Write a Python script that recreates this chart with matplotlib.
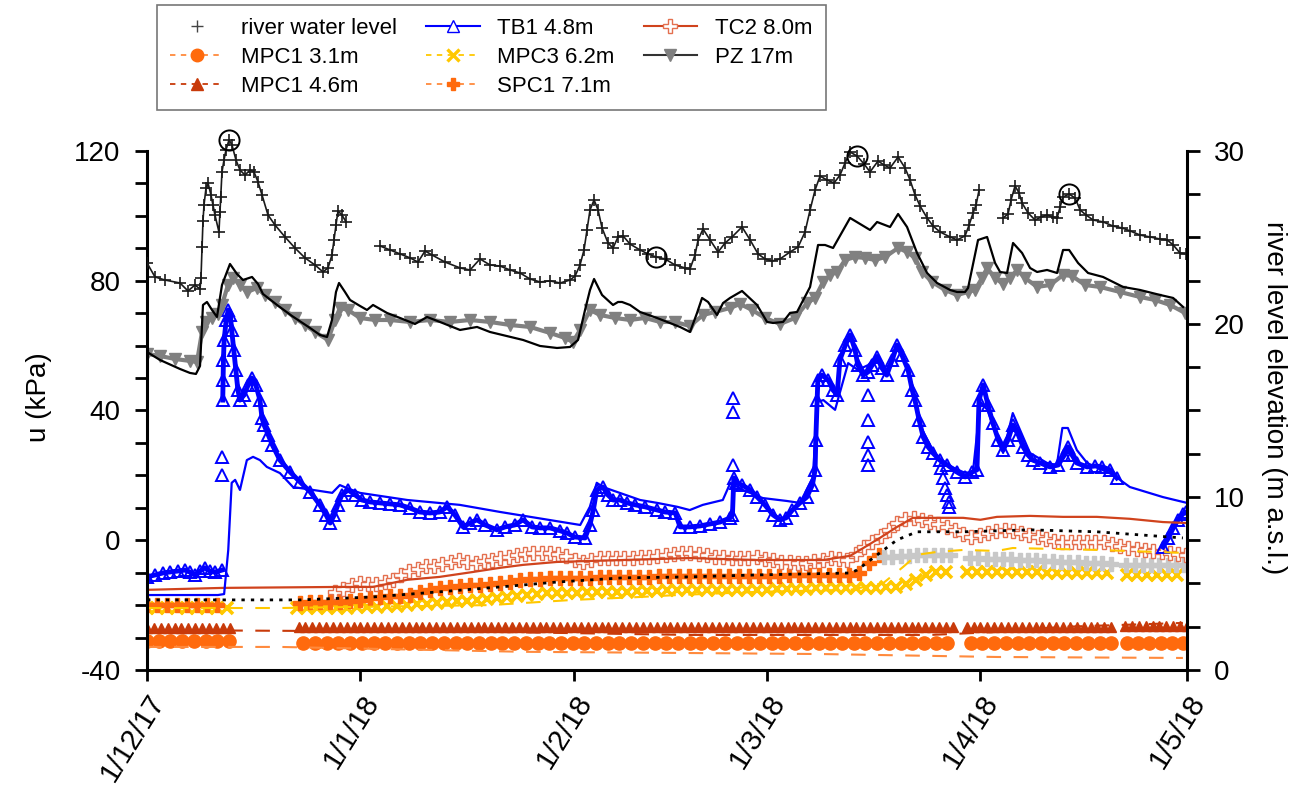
import numpy as np
import pandas as pd
import matplotlib
matplotlib.use("Agg")
import matplotlib.pyplot as plt
import matplotlib.dates as mdates
from matplotlib.lines import Line2D
from matplotlib.ticker import MultipleLocator, FuncFormatter

plt.rcParams['font.family'] = ['Liberation Sans', 'DejaVu Sans']
plt.rcParams['axes.unicode_minus'] = False

START = pd.Timestamp('2017-12-01')
END = pd.Timestamp('2018-05-01')
nan = np.nan

# ---------------- river water level (m a.s.l.), days after 1/12/17 ----------------
# nan entries mark logger gaps
riv_days = [0.0, 1.16, 2.61, 4.79, 5.95, 6.97, 7.70, 7.84, 7.99, 8.13, 8.28, 8.57, 8.86, 9.29, 9.58,
            9.87, 10.45, 10.60, 10.70, 10.89, 11.18, 11.47, 11.91, 12.34, 12.92, 13.50, 14.23, 14.96,
            15.54, 16.12, 16.70, 17.57, 18.59, 20.04, 21.49, 22.94, 24.39, 25.56, 26.28, 26.86, 27.15,
            27.44, 27.73, 28.31, 28.90, 31.0,
            33.83, 35.28, 36.74, 38.19, 39.35, 40.37, 41.38, 43.27, 45.45, 46.90, 48.35, 49.80, 51.26,
            52.71, 54.16, 55.61, 57.06, 58.52, 59.97, 61.42, 62.15, 62.87, 63.45, 63.89, 64.32, 64.91,
            65.49, 66.07, 66.94, 67.66, 68.39, 69.12, 70.13, 71.58, 72.74, 73.91, 75.21, 76.67, 78.12,
            78.84, 79.57, 80.01, 80.73, 81.75, 82.91, 83.93, 84.94, 86.39, 87.56, 88.72, 89.73, 90.75,
            91.91, 93.36, 94.53, 95.54, 96.27, 97.00, 97.72, 98.74, 99.75, 100.62, 101.35, 102.08,
            103.09, 104.11, 104.98, 106.14, 107.01, 107.88, 109.05, 110.06, 110.79, 111.51, 112.24,
            113.26, 114.13, 115.14, 116.60, 117.61, 118.77, 119.36, 119.94, 120.37, 120.81, 122.5,
            124.29, 125.02, 125.45, 126.03, 126.62, 127.05, 127.92, 128.94, 129.81, 130.68, 131.55,
            132.13, 132.57, 133.00, 133.88, 134.75, 135.47, 136.34, 137.36, 138.81, 140.26, 141.57,
            142.73, 144.18, 145.64, 147.09, 148.11, 148.98, 149.99, 150.86]
riv_m = [23.53, 22.72, 22.54, 22.37, 21.91, 22.25, 22.02, 22.66, 24.45, 25.95, 26.88, 27.86, 28.15, 27.46,
         26.88, 26.30, 25.32, 26.47, 27.34, 28.79, 29.48, 30.06, 30.64, 30.35, 29.48, 28.90, 28.61, 28.90,
         28.79, 28.21, 27.46, 26.30, 25.72, 25.03, 24.39, 23.82, 23.41, 23.01, 23.24, 23.99, 24.86,
         25.72, 26.53, 26.30, 25.90, nan,
         24.51, 24.28, 24.05, 23.82, 23.58, 24.22, 23.99, 23.58, 23.24, 23.12, 23.76, 23.41, 23.35,
         23.12, 22.95, 22.60, 22.43, 22.49, 22.37, 22.54, 22.77, 23.41, 24.28, 25.43, 26.59, 27.17,
         26.59, 25.55, 24.68, 24.39, 25.03, 25.09, 24.62, 24.28, 24.05, 23.87, 23.76, 23.41, 23.24,
         23.18, 23.99, 24.86, 25.49, 24.86, 24.16, 24.68, 25.03, 25.61, 24.86, 24.05, 23.76, 23.64,
         23.76, 24.16, 24.45, 25.32, 26.59, 27.75, 28.55, 28.32, 28.15, 28.61, 29.31, 29.94,
         29.71, 29.25, 28.79, 29.42, 29.19, 29.02, 29.65, 29.02, 28.32, 27.46, 26.82,
         26.13, 25.66, 25.32, 25.03, 24.86, 25.09, 25.72, 26.42, 26.88, 27.75, nan,
         26.13, 26.36, 27.17, 27.98, 27.57, 26.99, 26.42, 26.01, 26.18, 26.30, 26.18,
         26.13, 26.76, 27.34, 27.51, 27.28, 26.59, 26.30, 26.01, 25.90, 25.66, 25.55,
         25.38, 25.14, 25.03, 24.91, 24.86, 24.57, 24.10, 24.05]
# highlighted river peaks / points
ring_days = [11.91, 73.91, 103.09, 133.88]
ring_m = [30.64, 23.87, 29.71, 27.51]

# ---------------- PZ 17m ----------------
pz_days = [0.0, 1.89, 4.06, 6.24, 7.26, 7.99, 8.57, 9.44, 10.31, 10.89, 11.76, 12.49, 13.50, 14.52, 15.97,
           17.13, 18.59, 20.04, 21.49, 22.94, 24.39, 26.28, 27.30, 28.02, 29.19, 30.93, 33.11, 35.29,
           38.19, 41.09, 44.00, 46.90, 49.80, 52.71, 55.61, 58.52, 60.69, 61.86, 62.87, 64.32, 65.78,
           67.96, 70.13, 72.31, 74.49, 76.67, 78.84, 80.73, 82.47, 84.65, 86.10, 87.85, 89.73, 91.91,
           94.09, 95.83, 96.99, 98.16, 99.17, 100.19, 101.35, 102.80, 104.25, 105.71, 107.16, 109.05,
           110.35, 111.51, 112.53, 113.98, 115.87, 117.61, 119.21, 120.23, 121.24, 121.97, 123.13,
           124.29, 125.31, 126.32, 127.49, 129.23, 131.12, 133.00, 134.31, 136.20, 138.38, 141.28,
           144.18, 146.36, 148.54, 150.72]
pz_kpa = [57.42, 56.81, 55.88, 55.27, 54.96, 64.20, 67.29, 68.52, 69.75, 72.53, 78.69, 80.85, 78.69, 76.53,
          77.77, 75.61, 73.45, 70.99, 68.52, 66.36, 64.20, 61.74, 67.90, 71.60, 70.99, 68.52, 67.90, 67.90,
          67.29, 67.90, 67.29, 67.90, 67.29, 66.36, 65.75, 63.90, 62.36, 61.13, 64.82, 70.99, 69.45,
          68.52, 67.90, 68.52, 67.29, 67.29, 66.05, 69.45, 70.37, 71.60, 72.84, 70.99, 68.52, 66.67,
          68.52, 73.14, 74.69, 79.62, 81.78, 82.70, 86.40, 87.32, 87.02, 86.40, 87.32, 90.10,
          88.87, 87.02, 82.70, 79.62, 77.15, 75.61, 76.53, 77.15, 80.85, 83.93, 80.85,
          79.00, 80.85, 83.32, 80.85, 78.08, 78.69, 81.78, 81.47, 78.69, 78.08, 76.53,
          74.99, 74.07, 72.53, 70.06]
pz_fit_days = [0.0, 1.89, 4.79, 6.24, 7.11, 7.70, 8.13, 8.71, 9.44, 10.16, 10.89, 12.05, 13.07, 13.94,
               15.25, 16.12, 16.84, 18.88, 21.05, 23.67, 25.12, 26.14, 26.86, 27.44, 27.88, 28.75, 29.48,
               30.93, 31.94, 32.82, 34.85, 36.74, 38.91, 40.66, 42.54, 45.45, 47.92, 49.80, 54.60, 57.06,
               59.53, 61.42, 62.58, 63.60, 64.32, 64.91, 66.07, 67.66, 68.39, 68.97, 70.13, 71.58, 74.05,
               77.39, 78.84, 79.86, 80.59, 81.46, 82.76, 83.64, 84.65, 86.39, 88.57, 90.03, 90.90, 92.35,
               93.36, 94.38, 96.27, 97.43, 98.45, 99.61, 102.08, 104.98, 106.00, 107.88, 109.05, 110.35,
               111.80, 113.26, 114.71, 116.60, 117.61, 118.77, 119.21, 120.66, 121.97, 123.13, 123.86,
               124.87, 125.74, 127.05, 128.21, 129.23, 130.68, 132.13, 133.00, 133.88, 135.18, 136.63,
               138.81, 141.72, 144.18, 147.09, 148.98, 150.43]
pz_fit_kpa = [58.04, 55.57, 52.80, 51.57, 51.26, 53.72, 72.53, 73.45, 70.99, 68.83, 78.69, 85.17, 82.08, 80.23,
              81.16, 79.00, 75.92, 72.53, 69.14, 65.44, 63.28, 62.66, 67.90, 76.53, 79.31, 76.53, 74.07,
              72.22, 70.99, 72.53, 70.06, 68.52, 66.67, 68.83, 67.29, 64.82, 65.75, 64.20, 61.74, 59.89,
              59.27, 59.58, 61.74, 70.99, 77.15, 80.54, 75.61, 72.53, 73.45, 73.45, 72.53, 70.37, 68.52,
              65.75, 64.20, 70.06, 74.69, 73.45, 69.45, 73.14, 74.69, 76.84, 72.53, 67.29, 66.98, 67.29,
              70.06, 70.37, 78.08, 91.02, 91.02, 90.10, 99.35, 95.65, 98.11, 96.57, 100.58, 96.57,
              88.56, 82.39, 79.31, 77.15, 76.53, 76.53, 77.77, 92.56, 93.49, 85.47, 82.70,
              82.39, 91.64, 88.56, 83.93, 82.70, 83.32, 82.39, 89.48, 89.48, 85.47, 82.39,
              81.16, 78.08, 77.15, 75.61, 74.69, 71.91]

# ---------------- TB1 4.8m ----------------
tb1_days = [0.0, 1.2, 2.3, 3.3, 4.5, 5.5, 6.2, 7.0, 7.7, 8.4, 9.1, 9.9, 10.9, 10.95,
            11.0, 11.05, 11.1, 11.2, 11.5, 11.8, 12.1, 12.3, 12.6, 12.9, 13.2, 13.5, 14.1, 14.7, 15.2,
            15.8, 16.4, 16.7, 17.0, 17.6, 18.2, 19.3, 20.8, 22.2, 23.7, 25.1, 26.0, 26.6, 27.2, 27.7,
            28.3, 29.2, 30.2, 31.2, 32.4, 33.8, 35.3, 36.7, 38.2, 39.6, 41.1, 42.5, 43.6, 44.7, 45.9,
            46.9, 47.9, 49.1, 50.8, 52.0, 53.4, 54.6, 55.9, 57.1, 58.5, 60.0, 61.0, 62.1, 63.6, 64.3,
            64.8, 65.3, 66.2, 66.9, 67.7, 68.7, 69.7, 70.9, 72.3, 74.1, 75.2, 76.7, 77.4, 78.8, 80.3,
            81.7, 83.2, 84.7, 85.0, 85.2, 85.5, 86.4, 87.6, 88.6, 89.7, 90.9, 91.9,
            92.8, 93.7, 94.8, 95.8, 96.6, 97.0, 97.1, 97.3, 97.4, 98.0, 98.9, 99.6, 100.2, 100.6,
            101.4, 102.1, 102.8, 103.2, 104.0, 104.7, 105.3, 106.0, 106.7, 107.4, 108.2, 108.9, 109.6,
            110.5, 111.1, 111.5, 112.1, 112.7, 113.4, 114.1, 115.1, 116.2, 117.6, 118.8, 119.8, 120.5,
            120.8, 121.4, 122.1, 122.8, 123.6, 124.3, 125.0, 125.7, 126.5, 127.2, 127.9, 128.6, 129.7,
            131.1, 132.3, 133.2, 133.7, 134.3, 135.0, 136.5, 137.7, 138.7, 139.8, 140.8, 144.0,
            147.5, 148.3, 149.0, 149.7, 150.4, 150.9]
tb1_kpa = [-11.3, -10.7, -10.1, -9.8, -9.5, -9.2, -9.8, -10.7, -9.5, -8.5, -9.5, -9.8, -9.2, nan,
           43.2, 49.4, 55.6, 61.7, 67.9, 71.0, 69.4, 64.8, 58.7, 52.5, 46.3, 43.2, 44.8, 47.9, 50.0,
           47.9, 43.2, 37.7, 35.5, 32.5, 29.4, 24.7, 21.0, 18.0, 14.9, 10.9, 7.8, 5.3, 7.8, 10.9,
           14.0, 15.5, 14.0, 12.4, 11.8, 11.5, 11.2, 10.9, 9.9, 8.7, 8.4, 8.7, 10.3, 7.8, 4.1,
           5.3, 6.3, 4.7, 3.2, 4.1, 4.7, 6.3, 4.1, 3.8, 3.8, 2.9, 2.2, 1.0, 0.7, 4.7,
           9.3, 15.5, 16.4, 14.0, 12.4, 12.4, 11.5, 10.9, 10.3, 9.3, 8.7, 8.4, 4.1, 4.1, 4.4,
           5.0, 5.6, 6.9, 7.8, 19.2, 17.7, 17.0, 15.5, 13.3, 10.9, 7.8, 6.3,
           6.9, 9.3, 11.5, 13.3, 17.0, 21.7, 30.9, 43.2, 49.4, 50.9, 49.4, 46.3, 44.8, 55.6,
           60.2, 63.3, 58.7, 54.0, 50.9, 51.9, 54.0, 56.5, 53.1, 50.9, 55.6, 60.2, 57.1,
           52.5, 46.3, 43.2, 37.1, 31.8, 28.8, 26.9, 24.7, 23.2, 21.0, 19.5, 21.0, 21.7,
           43.2, 47.9, 41.7, 36.2, 30.9, 27.8, 30.9, 35.5, 32.5, 28.8, 26.3, 24.7, 23.8,
           22.6, 23.2, 26.3, 28.8, 26.3, 23.8, 22.6, 22.9, 22.6, 21.7, 19.2, nan,
           -2.1, 0.7, 3.8, 6.3, 8.1, 8.7]
# isolated TB1 readings
tb1_spike_days = [10.9, 10.9, 85.1, 85.1, 85.1, 104.7, 104.7, 104.7, 104.7, 104.7,
                  115.3, 115.6, 115.8, 116.1, 116.4, 116.4]
tb1_spike_kpa = [25.7, 20.1, 43.9, 39.5, 23.2, 44.8, 37.1, 30.3, 26.3, 23.2,
                 22.3, 19.2, 16.1, 14.0, 11.8, 10.3]
tb1_fit_days = [0.0, 10.3, 11.2, 11.8, 12.3, 12.8, 13.5, 14.5, 15.4, 16.4, 17.4, 19.3, 21.2, 24.1, 26.9,
                28.0, 29.0, 30.9, 37.8, 45.4, 51.3, 62.9, 64.3, 65.3, 66.2, 71.6, 74.1, 77.0, 78.8, 80.7,
                83.6, 84.7, 86.5, 89.4, 92.9, 94.8, 96.7, 97.3, 98.2, 99.9, 101.8, 103.2, 104.7, 106.0,
                107.4, 108.9, 110.5, 112.2, 114.1, 115.6, 118.5, 119.9, 121.0, 122.0, 124.3, 125.7,
                128.2, 130.7, 132.1, 132.9, 133.7, 135.0, 136.5, 140.3, 142.7, 147.5, 151.0]
tb1_fit_kpa = [-16.9, -16.9, -16.6, -3.0, 17.7, 18.6, 15.5, 24.7, 25.7, 24.7, 22.6, 20.7, 16.4, 15.5, 14.6,
               17.0, 16.1, 14.6, 12.4, 10.9, 8.7, 4.7, 10.3, 17.7, 16.4, 12.4, 11.5, 10.3, 9.3, 10.9,
               12.4, 17.7, 15.5, 13.0, 12.1, 11.5, 19.5, 42.6, 43.2, 40.2, 54.6, 52.5, 54.0, 57.1,
               52.5, 60.2, 53.1, 35.5, 27.8, 23.8, 21.0, 20.7, 42.6, 40.2, 26.9, 39.2,
               26.9, 23.8, 23.2, 34.6, 34.6, 27.8, 23.8, 20.1, 16.4, 13.3, 11.5]

# ---------------- TC2 8.0m ----------------
tc2_days = np.arange(27.3, 151.0, 1.2)
tc2_kpa = [-16.0, -14.9, -13.9, -13.3, -13.6, -13.5, -12.9, -12.2, -10.8, -9.6, -8.8, -8.1, -7.8, -7.4,
           -6.6, -6.2, -6.7, -6.9, -6.4, -6.0, -5.6, -5.3, -4.7, -4.2, -3.9, -3.9, -3.9, -4.3, -5.0,
           -6.2, -6.8, -6.0, -5.5, -5.5, -5.5, -5.5, -5.4, -5.3, -5.2, -4.9, -4.5, -4.1, -3.9, -3.9,
           -4.3, -4.7, -5.1, -5.3, -5.4, -5.5, -5.4, -5.2, -5.7, -6.2, -6.7, -6.8, -6.9, -7.0, -6.5,
           -6.0, -5.5, -5.8, -6.0, -4.4, -2.0, -0.4, 1.2, 3.2, 5.3, 6.5, 7.0, 6.3, 5.5, 4.9, 4.2,
           3.1, 1.9, 1.1, 1.7, 2.3, 2.8, 3.1, 2.7, 2.2, 1.5, 0.9, 0.4, -0.1, -0.5, -0.5, -0.5, -0.5,
           -0.5, -0.7, -1.3, -1.9, -2.3, -2.7, -2.9, -3.2, -3.5, -3.9, -4.3, -4.6]
tc2_fit_days = [0.0, 11.0, 28.0, 32.8, 37.8, 42.5, 47.3, 51.3, 54.6, 59.5, 69.1, 78.8, 88.6, 98.2, 102.1,
                104.0, 106.4, 108.9, 111.2, 113.7, 118.5, 121.0, 123.4, 128.2, 133.0, 137.9, 142.7,
                147.5, 151.0]
tc2_fit_kpa = [-15.3, -14.7, -14.4, -14.4, -12.2, -11.3, -9.8, -8.5, -7.6, -6.7, -6.1, -5.5, -6.1, -6.1, -4.8,
               -2.4, 0.7, 4.1, 6.9, 6.9, 6.9, 6.3, 7.2, 7.5, 7.2, 7.2, 6.6, 5.6, 5.3]

# ---------------- SPC1 7.1m ----------------
spc1_days = np.concatenate([np.arange(0.0, 11.0, 1.45), np.arange(22.2, 106.4, 1.45)])
spc1_kpa = [-20.0, -20.0, -20.0, -20.0, -20.0, -20.0, -20.0, -20.0,
            -19.3, -19.2, -19.2, -19.1, -19.0, -18.6, -18.3, -17.9, -17.6, -17.3, -17.1, -16.8, -16.1,
            -15.4, -14.7, -14.4, -14.2, -13.9, -13.7, -13.4, -13.2, -12.8, -12.4, -12.1, -11.9, -11.7,
            -11.6, -11.6, -11.5, -11.5, -11.4, -11.4, -11.3, -11.3, -11.2, -11.2, -11.1, -11.1, -11.0,
            -11.0, -11.0, -11.0, -11.0, -11.0, -11.0, -11.0, -11.0, -10.9, -10.9, -10.8, -10.8, -10.8,
            -10.7, -10.7, -10.7, -10.7, -10.1, -7.0, -4.6]
# same depth after 6/3/18, grey crosses
spc1b_days = np.concatenate([np.arange(107.0, 117.0, 1.2), np.arange(119.5, 140.0, 1.2),
                             np.arange(142.2, 151.0, 1.2)])
spc1b_kpa = [-5.2, -5.1, -4.9, -4.8, -4.6, -4.5, -4.5, -4.6, -4.7,
             -5.5, -5.6, -5.7, -5.8, -5.8, -5.9, -6.0, -6.1, -6.2, -6.3, -6.5, -6.7, -6.8, -6.8, -6.9,
             -7.0, -7.1, -7.2,
             -7.6, -7.6, -7.6, -7.6, -7.6, -7.6, -7.6, -7.6]
dot_days = [0.0, 22.2, 32.8, 42.5, 51.3, 59.5, 69.1, 78.8, 88.6, 102.1, 103.1, 106.4, 108.9, 111.8, 118.5,
            128.2, 137.9, 150.4]
dot_kpa = [-18.4, -18.4, -17.5, -15.9, -14.4, -12.9, -11.6, -11.3, -10.7, -10.1, -9.2, -3.9, 0.1, 2.6, 2.6,
           3.2, 2.6, 0.7]

# ---------------- MPC3 6.2m ----------------
mpc3_days = np.concatenate([np.arange(0.0, 12.2, 1.45), np.arange(21.8, 116.1, 1.45),
                            np.arange(119.1, 139.5, 1.45), np.arange(142.3, 150.0, 1.45)])
mpc3_kpa = [-20.9, -20.9, -20.9, -20.9, -20.9, -20.9, -20.9, -20.9, -20.9,
            -20.9, -20.9, -20.9, -20.9, -20.9, -20.8, -20.7, -20.6, -20.5, -20.4, -20.2, -20.0, -19.8,
            -19.6, -19.4, -19.1, -18.8, -18.6, -18.3, -18.1, -17.9, -17.5, -17.1, -16.8, -16.6, -16.4,
            -16.3, -16.2, -16.2, -16.1, -16.1, -16.0, -15.9, -15.9, -15.8, -15.7, -15.6, -15.5, -15.4,
            -15.3, -15.3, -15.3, -15.3, -15.3, -15.3, -15.3, -15.3, -15.2, -15.1, -15.0, -14.9, -14.9,
            -14.8, -14.7, -14.7, -14.7, -14.7, -14.7, -14.6, -14.5, -14.4, -13.4, -12.3, -10.7, -9.9,
            -9.8,
            -9.8, -9.8, -9.8, -9.8, -9.9, -9.9, -9.9, -9.9, -10.0, -10.0, -10.0, -10.0, -10.1, -10.1,
            -10.1,
            -10.7, -10.7, -10.7, -10.7, -10.7, -10.7]
mpc3_fit_days = [0.0, 19.3, 49.8, 61.9, 71.6, 77.0, 89.0, 102.1, 106.9, 109.8, 111.8, 114.7, 118.5, 123.4,
                 125.7, 137.9, 150.4]
mpc3_fit_kpa = [-20.9, -20.9, -20.0, -18.4, -17.5, -16.9, -15.9, -15.3, -13.2, -8.2, -4.5, -3.6, -3.0, -3.3,
                -2.4, -3.0, -3.9]

# ---------------- MPC1 4.6m ----------------
mpc1b_days = np.concatenate([np.arange(0, 13), np.arange(22, 118), np.arange(119, 141),
                             np.arange(142, 152)])
mpc1b_kpa = [-27.0, -27.0, -27.0, -27.0, -27.0, -27.0, -27.0, -27.0, -27.0, -27.0, -27.0, -27.0, -27.0,
             -26.7, -26.7, -26.7, -26.7, -26.7, -26.7, -26.7, -26.7, -26.7, -26.7, -26.7, -26.7,
             -26.7, -26.7, -26.7, -26.7, -26.7, -26.7, -26.7, -26.7, -26.7, -26.7, -26.7, -26.7,
             -26.7, -26.7, -26.7, -26.7, -26.7, -26.7, -26.7, -26.7, -26.7, -26.7, -26.7, -26.7,
             -26.7, -26.7, -26.7, -26.7, -26.7, -26.7, -26.7, -26.7, -26.7, -26.7, -26.7, -26.7,
             -26.7, -26.7, -26.7, -26.7, -26.7, -26.7, -26.7, -26.7, -26.7, -26.7, -26.7, -26.7,
             -26.7, -26.7, -26.7, -26.7, -26.7, -26.7, -26.7, -26.7, -26.7, -26.7, -26.7, -26.7,
             -26.7, -26.7, -26.7, -26.7, -26.7, -26.7, -26.7, -26.7, -26.7, -26.7, -26.7, -26.7,
             -26.7, -26.7, -26.7, -26.7, -26.7, -26.7, -26.7, -26.7, -26.7, -26.7, -26.7, -26.7,
             -26.7, -26.7, -26.7, -26.7, -26.7, -26.7, -26.7, -26.7, -26.7, -26.7, -26.7, -26.7,
             -26.7, -26.7, -26.7, -26.7, -26.7, -26.7, -26.7, -26.7, -26.7, -26.7,
             -26.6, -26.6, -26.6, -26.6, -26.6, -26.6, -26.6, -26.6, -26.6, -26.6]
mpc1b_fit_days = [0.0, 51.3, 78.8, 113.7, 123.4, 133.0, 150.4]
mpc1b_fit_kpa = [-27.7, -28.3, -29.2, -29.2, -28.3, -26.7, -25.5]

# ---------------- MPC1 3.1m ----------------
mpc1a_days = np.concatenate([np.arange(0.0, 12.0, 1.7), np.arange(22.7, 117.3, 1.7),
                             np.arange(119.6, 140.6, 1.7), np.arange(142.3, 150.5, 1.62)])
mpc1a_kpa = [-31.0, -31.0, -31.0, -31.0, -31.0, -31.0, -31.0, -31.0,
             -31.7, -31.7, -31.7, -31.7, -31.7, -31.7, -31.7, -31.7, -31.7, -31.7, -31.7, -31.7,
             -31.7, -31.7, -31.7, -31.7, -31.7, -31.7, -31.7, -31.7, -31.7, -31.7, -31.7, -31.7,
             -31.7, -31.7, -31.7, -31.7, -31.7, -31.7, -31.7, -31.7, -31.7, -31.7, -31.7, -31.7,
             -31.7, -31.7, -31.7, -31.7, -31.7, -31.7, -31.7, -31.7, -31.7, -31.7, -31.7, -31.7,
             -31.7, -31.7, -31.7, -31.7, -31.7, -31.7, -31.7, -31.7,
             -31.7, -31.7, -31.7, -31.7, -31.7, -31.7, -31.7, -31.7, -31.7, -31.7, -31.7, -31.7, -31.7,
             -31.7, -31.7, -31.7, -31.7, -31.7, -31.7]
mpc1a_fit_days = [0.0, 19.3, 54.6, 74.1, 98.2, 123.4, 150.4]
mpc1a_fit_kpa = [-32.9, -32.9, -34.4, -34.7, -35.1, -36.0, -36.3]

C_ORANGE = '#ff6a0d'
C_ORANGE_LN = '#ff8a3d'
C_DKRED = '#c83a0a'
C_YELLOW = '#ffc800'
C_TC2 = '#e4704f'
C_TC2_LN = '#d0431d'
C_BLUE = '#0000ff'
DASH = (0, (7, 6))


def to_dates(days):
    return START + pd.to_timedelta(np.asarray(days, dtype=float), unit='D')


fig = plt.figure(figsize=(13.03, 7.99), dpi=100)
ax = fig.add_axes([0.1128, 0.1615, 0.7982, 0.682])
ax2 = ax.twinx()

# measured series (markers)
ax.plot(to_dates(mpc1a_days), mpc1a_kpa, ls='none', marker='o', ms=9.5, color=C_ORANGE, mec=C_ORANGE)
ax.plot(to_dates(mpc1b_days), mpc1b_kpa, ls='none', marker='^', ms=7.5, color=C_DKRED, mec=C_DKRED)
ax.plot(to_dates(mpc3_days), mpc3_kpa, ls='none', marker='x', ms=8, mew=2.6, color=C_YELLOW)
ax.plot(to_dates(spc1_days), spc1_kpa, ls='none', marker='P', ms=9.5, color=C_ORANGE, mec=C_ORANGE)
ax.plot(to_dates(spc1b_days), spc1b_kpa, ls='none', marker='P', ms=9.5, color='#c8c8c8', mec='#c8c8c8')
ax.plot(to_dates(tc2_days), tc2_kpa, ls='none', marker='P', ms=10, mfc='white', mec=C_TC2, mew=1.0)
ax.plot(to_dates(tb1_days), tb1_kpa, ls='-', lw=3.5, color=C_BLUE, marker='^', ms=9, mfc='none',
        mec=C_BLUE, mew=1.4)
ax.plot(to_dates(tb1_spike_days), tb1_spike_kpa, ls='none', marker='^', ms=9, mfc='none', mec=C_BLUE,
        mew=1.4)
ax.plot(to_dates(pz_days), pz_kpa, ls='-', lw=3, color='#808080', marker='v', ms=9, mec='#808080')

# model lines
ax.plot(to_dates(mpc1a_fit_days), mpc1a_fit_kpa, ls=DASH, lw=1.5, color=C_ORANGE_LN)
ax.plot(to_dates(mpc1b_fit_days), mpc1b_fit_kpa, ls=DASH, lw=1.5, color=C_DKRED)
ax.plot(to_dates(mpc3_fit_days), mpc3_fit_kpa, ls=DASH, lw=1.5, color=C_YELLOW)
ax.plot(to_dates(dot_days), dot_kpa, ls=(0, (1.2, 2.2)), lw=2.0, color='k')
ax.plot(to_dates(tc2_fit_days), tc2_fit_kpa, ls='-', lw=1.6, color=C_TC2_LN)
ax.plot(to_dates(tb1_fit_days), tb1_fit_kpa, ls='-', lw=1.6, color=C_BLUE)
ax.plot(to_dates(pz_fit_days), pz_fit_kpa, ls='-', lw=1.6, color='k')

# river level on the right axis
ax2.plot(to_dates(riv_days), riv_m, ls='-', lw=1.2, color='#1a1a1a', marker='+', ms=9, mew=1.2)
ax2.plot(to_dates(ring_days), ring_m, ls='none', marker='o', ms=14.5, mfc='none', mec='k',
         mew=1.4, clip_on=False)

# axes styling
ax.set_xlim(START, END)
ax.set_ylim(-40, 128)
ax2.set_ylim(0, 31.5)

for s in ('top', 'right'):
    ax.spines[s].set_visible(False)
for s in ('top', 'left', 'bottom'):
    ax2.spines[s].set_visible(False)
ax.spines['left'].set_bounds(-40, 120)
ax2.spines['right'].set_bounds(0, 30)
for sp in (ax.spines['left'], ax.spines['bottom'], ax2.spines['right']):
    sp.set_linewidth(2.2)

ax.yaxis.set_major_locator(MultipleLocator(40))
ax.yaxis.set_minor_locator(MultipleLocator(10))
ax2.yaxis.set_major_locator(MultipleLocator(10))
ax2.yaxis.set_minor_locator(MultipleLocator(2.5))
ax.tick_params(axis='y', which='both', direction='out', length=9, width=2, labelsize=20, pad=10)
ax2.tick_params(axis='y', which='both', direction='out', length=9, width=2, labelsize=20, pad=10)

ax.xaxis.set_major_locator(mdates.MonthLocator())
ax.xaxis.set_major_formatter(FuncFormatter(
    lambda v, pos: '{d.day}/{d.month}/{y:02d}'.format(d=mdates.num2date(v), y=mdates.num2date(v).year % 100)))
ax.tick_params(axis='x', direction='out', length=8, width=2, labelsize=21, pad=6)
plt.setp(ax.get_xticklabels(), rotation=58, ha='right', rotation_mode='anchor')

ax.set_ylabel('u (kPa)', fontsize=20, labelpad=16)
ax2.set_ylabel('river level elevation (m a.s.l.)', fontsize=20, rotation=270, va='bottom', labelpad=12)

handles = [
    Line2D([], [], ls='none', marker='+', ms=9, mew=1.0, color='#444444'),
    Line2D([], [], ls=(0, (3, 3)), lw=1.3, color=C_ORANGE_LN, marker='o', ms=9, mfc=C_ORANGE, mec=C_ORANGE),
    Line2D([], [], ls=(0, (3, 3)), lw=1.3, color=C_DKRED, marker='^', ms=8, mfc=C_DKRED, mec=C_DKRED),
    Line2D([], [], ls='-', lw=1.5, color=C_BLUE, marker='^', ms=9, mfc='white', mec=C_BLUE),
    Line2D([], [], ls=(0, (3, 3)), lw=1.3, color=C_YELLOW, marker='x', ms=8, mew=2.4),
    Line2D([], [], ls=(0, (3, 3)), lw=1.3, color=C_ORANGE_LN, marker='P', ms=9, mfc=C_ORANGE, mec=C_ORANGE),
    Line2D([], [], ls='-', lw=1.5, color=C_TC2_LN, marker='P', ms=10, mfc='white', mec=C_TC2),
    Line2D([], [], ls='-', lw=1.5, color='#333333', marker='v', ms=9, mfc='#808080', mec='#808080'),
]
labels = ['river water level', 'MPC1 3.1m', 'MPC1 4.6m', 'TB1 4.8m', 'MPC3 6.2m', 'SPC1 7.1m',
          'TC2 8.0m', 'PZ 17m']
leg = fig.legend(handles, labels, loc='upper left', bbox_to_anchor=(0.1205, 0.994), ncol=3, fontsize=16,
                 frameon=True, fancybox=False, edgecolor='#555555', borderaxespad=0, handlelength=2.4,
                 handletextpad=0.8, columnspacing=1.3, labelspacing=0.35, borderpad=0.6)
leg.get_frame().set_linewidth(1.2)

fig.savefig('out.png', dpi=100)
